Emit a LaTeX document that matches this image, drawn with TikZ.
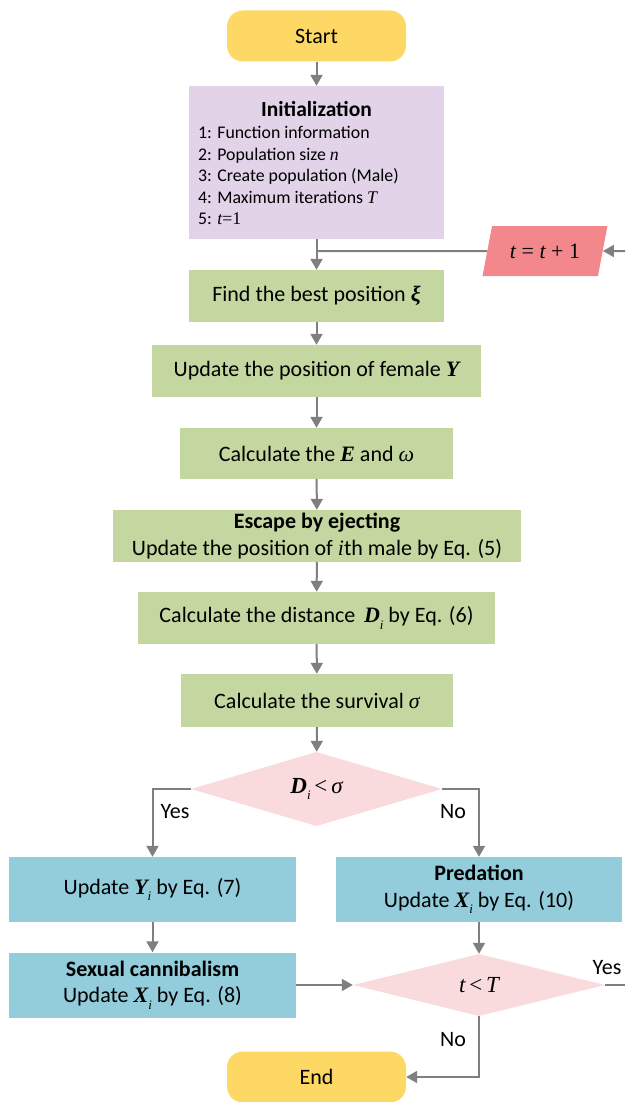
\documentclass[tikz,border=0pt]{standalone}
\usepackage{fontspec}
\setmainfont{Carlito}
\newfontfamily\mf{Liberation Serif}
\usetikzlibrary{shapes.geometric,arrows.meta}
\definecolor{cyellow}{HTML}{FDD865}
\definecolor{cpurple}{HTML}{E2D3E8}
\definecolor{cgreen}{HTML}{C5D7A0}
\definecolor{cblue}{HTML}{93CDDC}
\definecolor{cpink}{HTML}{F9DADD}
\definecolor{cred}{HTML}{F2888B}
\definecolor{cgray}{HTML}{7F7F7F}
\newcommand\mi[1]{{\mf\itshape #1}}
\newcommand\mbv[1]{{\mf\bfseries\itshape #1}}
\newcommand\sbi{\raisebox{-0.3em}{\fontsize{13}{13}\selectfont\mf\itshape i}}
\begin{document}
\begin{tikzpicture}[x=1pt,y=-1pt,
  base/.style={inner sep=0pt, align=center, font=\fontsize{22}{26.5}\selectfont},
  term/.style={base, rectangle, rounded corners=16pt, fill=cyellow, minimum width=179pt, minimum height=51pt},
  proc/.style={base, rectangle, fill=cgreen},
  act/.style={base, rectangle, fill=cblue, minimum width=287pt, minimum height=65pt},
  dec/.style={base, diamond, fill=cpink, font=\fontsize{23}{26}\selectfont},
  lbl/.style={inner sep=0pt, font=\fontsize{22}{26}\selectfont},
  line/.style={draw=cgray, line width=2pt},
  conn/.style={line, -{Triangle[length=11pt,width=12pt]}}]
\useasboundingbox (0,0) rectangle (625,1102);

\node[term] (start) at (316.5,36) {Start};
\node[base, rectangle, fill=cpurple, minimum width=255pt, minimum height=153pt] (init) at (316.5,162.5) {};
\node[lbl, font=\fontsize{21.5}{26}\selectfont\bfseries] (inittitle) at (316.5,109.5) {Initialization};
\node[inner sep=0pt, anchor=north west, align=left, font=\fontsize{17.8}{21.5}\selectfont] (initlist) at (198,126)
  {1: Function information\\2: Population size \mi{n}\\3: Create population (Male)\\4: Maximum iterations \mi{T}\\5: \mi{t}{\mf =1}};

\node[base, trapezium, trapezium left angle=67, trapezium right angle=113, trapezium stretches=true,
  fill=cred, minimum width=125pt, minimum height=50pt, font=\fontsize{22}{24}\selectfont\mf] (inc) at (545,251) {\mi{t} = \mi{t} + 1};

\node[proc, minimum width=255pt, minimum height=52pt] (find) at (316.5,296) {Find the best position \mbv{ξ}};
\node[proc, minimum width=329pt, minimum height=52pt] (female) at (316.5,371) {Update the position of female \mbv{Y}};
\node[proc, minimum width=273pt, minimum height=51pt] (calce) at (316.5,453.5) {Calculate the \mbv{E} and \mi{ω}};
\node[proc, minimum width=408pt, minimum height=52pt] (escape) at (317,536) {\textbf{Escape by ejecting}\\Update the position of \mi{i}th male by Eq. (5)};
\node[proc, minimum width=357pt, minimum height=52pt] (dist) at (316.5,618) {Calculate the distance \,\mbv{D}\sbi\ by Eq. (6)};
\node[proc, minimum width=272pt, minimum height=53pt] (surv) at (317,700.5) {Calculate the survival \mi{σ}};

\node[dec, minimum width=251pt, minimum height=74pt] (dec1) at (316.5,789) {\mbv{D}\sbi{\mf\,<\,}\mi{σ}};
\node[act] (updy) at (152.5,889.5) {Update \mbv{Y}\sbi\ by Eq. (7)};
\node[act, minimum width=286pt] (pred) at (479,889.5) {\textbf{Predation}\\Update \mbv{X}\sbi\ by Eq. (10)};
\node[act] (sex) at (152.5,985) {\textbf{Sexual cannibalism}\\Update \mbv{X}\sbi\ by Eq. (8)};
\node[dec, minimum width=252pt, minimum height=62pt] (dec2) at (479,985) {\mi{t}{\mf\,<\,}\mi{T}};
\node[term] (end) at (316.5,1077) {End};

\coordinate (loopout) at (625,985);
\coordinate (loopin) at (625,251);
\coordinate (join) at (316.5,251);

\draw[conn] (start) -- (init);
\draw[conn] (init) -- (find);
\draw[line] (inc.west) -- (join);
\draw[conn] (loopin) -- (inc.east);
\draw[conn] (find) -- (female);
\draw[conn] (female) -- (calce);
\draw[conn] (calce) -- (escape);
\draw[conn] (escape) -- (dist);
\draw[conn] (dist) -- (surv);
\draw[conn] (surv) -- (dec1);
\draw[conn] (dec1.west) -| (updy.north);
\draw[conn] (dec1.east) -| (pred.north);
\draw[conn] (updy) -- (sex);
\draw[conn] (sex.east) -- (dec2.west);
\draw[conn] (pred.south) -- (dec2.north);
\draw[line] (dec2.east) -- (loopout);
\draw[conn] (dec2.south) |- (end.east);

\node[lbl] (yes1) at (175,812) {Yes};
\node[lbl] (no1) at (453,812) {No};
\node[lbl] (yes2) at (607,968) {Yes};
\node[lbl] (no2) at (453,1040) {No};
\end{tikzpicture}
\end{document}
